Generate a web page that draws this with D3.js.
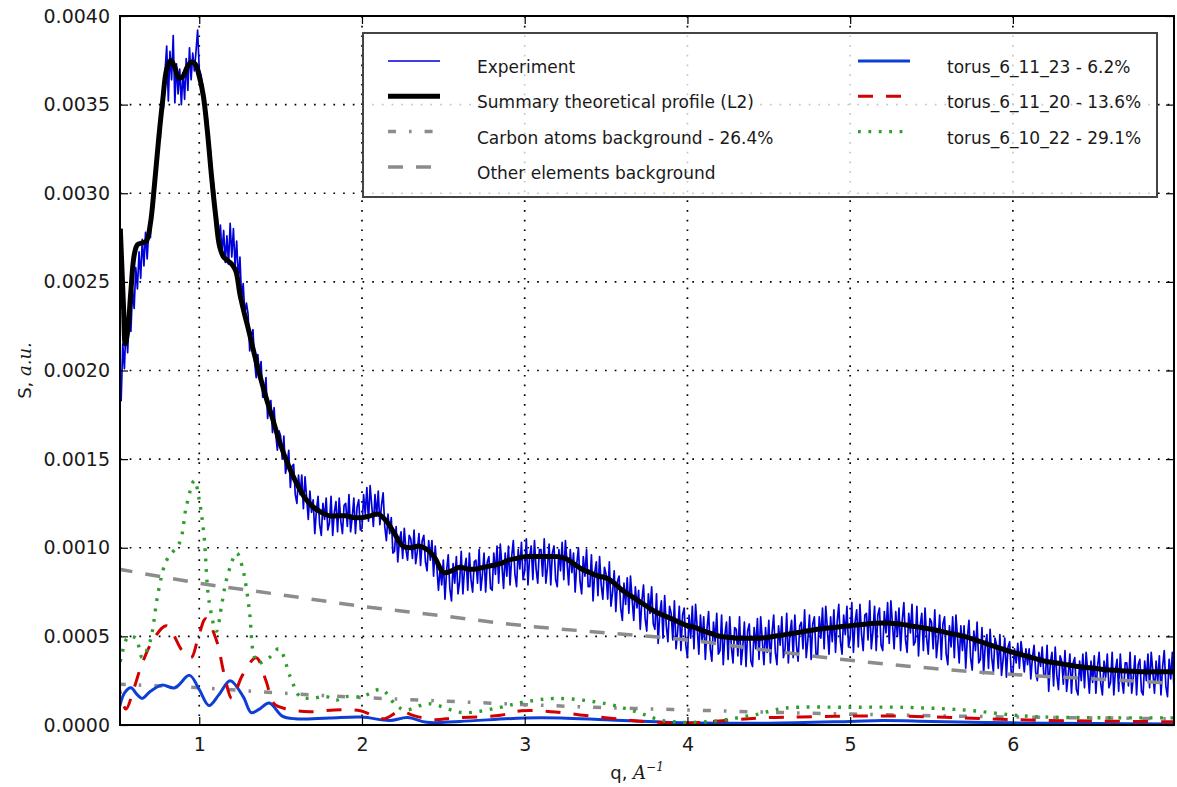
<!DOCTYPE html>
<html>
<head>
<meta charset="utf-8">
<style>
    body { margin: 0; background-color: #fff; }
    svg { display: block; background-color: #fff; }
    text { font-family: "DejaVu Sans", sans-serif; fill: #1a1a1a; }
    .math { font-family: "DejaVu Serif", serif; font-style: italic; }
</style>
<script src="https://cdn.jsdelivr.net/npm/d3@7"></script>
</head>
<body>
<svg id="chart" width="1177" height="787"></svg>
<script>
// all S values below are in units of 1e-4 (a.u.)

// experiment, sampled every 0.01 from q = 0.50 to 7.00
var expStart = 0.50, expStep = 0.01;
var experiment = [
    17.2, 19.4, 18.3, 21.5, 20.1, 22.6, 21.0, 23.4, 22.2, 24.6,
    23.5, 25.8, 24.6, 26.7, 25.2, 27.4, 25.9, 27.8, 26.3, 27.9,
    27.5, 29.6, 29.2, 31.0, 31.4, 33.5, 33.0, 35.2, 34.8, 36.9,
    38.3, 35.2, 38.0, 36.4, 38.9, 35.1, 37.3, 35.6, 37.0, 35.0,
    36.8, 35.3, 37.6, 35.8, 38.2, 36.4, 37.9, 36.9, 38.0, 39.2,
    37.0, 36.7, 36.1, 35.4, 34.8, 34.2, 33.0, 32.3, 30.8, 30.5,
    29.1, 28.7, 27.3, 28.2, 26.6, 27.9, 26.1, 27.6, 26.0, 28.3,
    26.4, 28.0, 25.9, 27.3, 25.1, 26.4, 24.1, 24.9, 23.2, 23.8,
    23.2, 21.1, 22.0, 22.3, 20.5, 19.6, 20.9, 19.7, 20.5, 18.5,
    18.5, 19.6, 17.3, 18.1, 18.3, 16.5, 17.9, 16.4, 15.5, 16.6,
    16.3, 15.0, 16.3, 14.2, 14.7, 15.5, 13.4, 14.6, 14.7, 13.0,
    12.5, 14.1, 13.0, 14.1, 12.2, 14.0, 12.8, 11.6, 13.2, 12.0,
    12.7, 10.8, 12.1, 12.9, 11.3, 10.7, 12.5, 11.6, 12.8, 11.0,
    11.4, 12.9, 10.7, 12.0, 12.6, 10.9, 12.8, 11.5, 10.8, 12.4,
    12.5, 11.2, 13.0, 10.9, 11.7, 12.8, 10.8, 12.3, 12.7, 11.0,
    11.1, 13.0, 11.9, 13.4, 11.5, 13.5, 12.4, 11.2, 13.0, 11.8,
    13.2, 11.3, 12.4, 13.1, 11.2, 10.4, 11.9, 10.8, 11.7, 9.7,
    9.8, 11.2, 9.2, 10.4, 10.9, 9.4, 11.1, 9.9, 9.3, 10.7,
    10.5, 9.4, 11.0, 9.1, 9.8, 10.8, 9.0, 10.4, 10.7, 9.2,
    8.7, 10.4, 9.3, 10.4, 8.4, 10.1, 8.9, 7.6, 8.9, 7.9,
    9.3, 7.1, 8.7, 9.6, 7.7, 7.0, 9.1, 8.0, 9.5, 7.4,
    8.1, 9.8, 7.4, 8.8, 9.4, 7.6, 9.7, 8.2, 7.5, 9.2,
    9.3, 8.0, 9.9, 7.6, 8.5, 9.7, 7.5, 9.2, 9.5, 7.7,
    7.6, 9.7, 8.5, 10.1, 8.0, 10.2, 9.0, 7.7, 9.7, 8.4,
    10.1, 7.9, 9.5, 10.4, 8.5, 7.8, 9.9, 8.8, 10.3, 8.2,
    8.7, 10.5, 7.9, 9.5, 10.1, 8.2, 10.4, 8.8, 8.0, 9.9,
    9.9, 8.4, 10.5, 8.0, 8.9, 10.2, 7.9, 9.7, 10.1, 8.2,
    7.8, 9.9, 8.7, 10.3, 8.2, 10.4, 9.2, 7.9, 9.9, 8.6,
    9.7, 7.5, 9.1, 10.0, 8.1, 7.4, 9.5, 8.4, 9.9, 7.8,
    7.8, 9.6, 7.0, 8.6, 9.2, 7.3, 9.5, 7.9, 7.1, 8.9,
    8.5, 7.1, 9.2, 6.7, 7.5, 8.7, 6.4, 8.1, 8.4, 6.6,
    5.9, 8.0, 6.8, 8.3, 6.3, 8.4, 7.1, 5.9, 7.8, 6.6,
    7.6, 5.4, 7.0, 7.9, 6.0, 5.3, 7.4, 6.3, 7.8, 5.7,
    5.4, 7.4, 4.6, 6.3, 7.0, 4.9, 7.3, 5.6, 4.7, 6.7,
    6.3, 4.8, 7.0, 4.3, 5.3, 6.7, 4.2, 6.2, 6.6, 4.5,
    3.8, 6.2, 4.9, 6.7, 4.3, 6.8, 5.5, 4.0, 6.2, 4.7,
    6.1, 3.7, 5.4, 6.4, 4.3, 3.6, 5.8, 4.7, 6.3, 4.0,
    4.2, 6.2, 3.4, 5.1, 5.8, 3.7, 6.1, 4.4, 3.5, 5.5,
    5.4, 3.9, 6.1, 3.4, 4.4, 5.8, 3.3, 5.3, 5.7, 3.6,
    3.3, 5.5, 4.3, 6.0, 3.7, 6.1, 4.8, 3.4, 5.5, 4.1,
    5.9, 3.5, 5.2, 6.2, 4.1, 3.4, 5.6, 4.5, 6.1, 3.8,
    4.3, 6.3, 3.5, 5.2, 5.9, 3.8, 6.2, 4.5, 3.6, 5.6,
    5.8, 4.3, 6.5, 3.8, 4.8, 6.2, 3.7, 5.7, 6.1, 4.0,
    3.9, 6.1, 4.9, 6.6, 4.3, 6.7, 5.4, 4.0, 6.1, 4.7,
    6.5, 4.1, 5.8, 6.8, 4.7, 4.0, 6.2, 5.1, 6.7, 4.4,
    4.9, 6.9, 4.1, 5.8, 6.5, 4.4, 6.8, 5.1, 4.2, 6.2,
    6.3, 4.8, 7.0, 4.3, 5.3, 6.7, 4.2, 6.2, 6.6, 4.5,
    4.2, 6.4, 5.2, 6.9, 4.6, 7.0, 5.7, 4.3, 6.4, 5.0,
    6.6, 4.2, 5.9, 6.9, 4.8, 4.1, 6.3, 5.2, 6.8, 4.5,
    4.7, 6.7, 3.9, 5.6, 6.3, 4.2, 6.6, 4.9, 4.0, 6.0,
    5.8, 4.3, 6.5, 3.8, 4.8, 6.2, 3.7, 5.7, 6.1, 4.0,
    3.4, 5.6, 4.4, 6.1, 3.8, 6.2, 4.9, 3.5, 5.6, 4.2,
    5.6, 3.2, 4.9, 5.9, 3.8, 3.1, 5.3, 4.2, 5.8, 3.5,
    3.7, 5.5, 2.9, 4.5, 5.1, 3.2, 5.4, 3.8, 3.0, 4.9,
    4.5, 3.2, 5.1, 2.8, 3.7, 4.9, 2.7, 4.4, 4.7, 2.9,
    2.9, 4.3, 3.5, 4.6, 3.2, 4.7, 3.9, 3.0, 4.3, 3.4,
    4.3, 2.6, 3.8, 4.5, 3.0, 2.5, 4.1, 3.3, 4.4, 2.8,
    2.7, 4.5, 1.9, 3.5, 4.1, 2.2, 4.4, 2.8, 2.0, 3.9,
    3.6, 2.3, 4.2, 1.9, 2.8, 4.0, 1.8, 3.5, 3.8, 2.0,
    1.7, 3.6, 2.5, 4.0, 2.1, 4.1, 3.0, 1.8, 3.6, 2.4,
    3.9, 1.8, 3.3, 4.1, 2.3, 1.7, 3.6, 2.7, 4.0, 2.1,
    2.4, 4.1, 1.7, 3.1, 3.7, 1.9, 4.0, 2.5, 1.8, 3.5,
    3.5, 2.2, 4.1, 1.8, 2.7, 3.9, 1.7, 3.4, 3.7, 1.9,
    1.7, 3.6, 2.5, 4.0, 2.1, 4.1, 3.0, 1.8, 3.6, 2.4,
    3.9, 1.7, 3.3, 4.2, 2.2, 1.6, 3.7, 2.6, 4.1, 2.0,
    2.8
];

// summary theoretical profile (L2)
var theoryQ = [0.515, 0.535, 0.545, 0.56, 0.58, 0.60, 0.62, 0.65, 0.675, 0.70,
    0.725, 0.75, 0.775, 0.80, 0.825, 0.85, 0.875, 0.90, 0.925, 0.95,
    0.975, 1.00, 1.025, 1.05, 1.075, 1.10, 1.125, 1.15, 1.175, 1.20,
    1.225, 1.25, 1.275, 1.30, 1.35, 1.40, 1.45, 1.50, 1.55, 1.60,
    1.65, 1.70, 1.75, 1.80, 1.85, 1.90, 1.95, 2.00, 2.05, 2.10,
    2.15, 2.20, 2.25, 2.30, 2.35, 2.40, 2.45, 2.50, 2.55, 2.60,
    2.65, 2.70, 2.75, 2.80, 2.85, 2.90, 2.95, 3.00, 3.05, 3.10,
    3.15, 3.20, 3.25, 3.30, 3.35, 3.40, 3.45, 3.50, 3.55, 3.60,
    3.65, 3.70, 3.75, 3.80, 3.85, 3.90, 3.95, 4.00, 4.05, 4.10,
    4.15, 4.20, 4.25, 4.30, 4.35, 4.40, 4.45, 4.50, 4.60, 4.70,
    4.80, 4.90, 5.00, 5.10, 5.20, 5.30, 5.40, 5.50, 5.60, 5.70,
    5.80, 5.90, 6.00, 6.10, 6.20, 6.30, 6.40, 6.50, 6.60, 6.70,
    6.80, 6.90, 7.00];
var theory = [28.0, 23.5, 21.5, 22.2, 24.5, 26.5, 27.1, 27.2, 27.3, 28.3,
    30.5, 33.0, 35.2, 37.0, 37.5, 37.1, 36.5, 36.6, 37.1, 37.4,
    37.3, 36.6, 35.5, 33.5, 31.0, 28.8, 27.0, 26.4, 26.2, 26.0,
    25.6, 24.3, 23.3, 22.4, 20.5, 18.8, 17.3, 15.8, 14.6, 13.6,
    12.8, 12.3, 12.0, 11.8, 11.8, 11.8, 11.7, 11.7, 11.8, 11.9,
    11.5, 10.8, 10.1, 10.0, 10.1, 9.9, 9.4, 8.6, 8.7, 8.9,
    8.8, 8.8, 8.9, 9.0, 9.1, 9.3, 9.4, 9.5, 9.5, 9.5,
    9.5, 9.5, 9.4, 9.1, 8.8, 8.6, 8.4, 8.3, 8.0, 7.6,
    7.3, 7.0, 6.7, 6.4, 6.2, 6.0, 5.8, 5.6, 5.5, 5.3,
    5.15, 5.0, 4.95, 4.9, 4.9, 4.9, 4.9, 4.95, 5.1, 5.25,
    5.4, 5.5, 5.6, 5.7, 5.75, 5.7, 5.55, 5.4, 5.2, 5.0,
    4.7, 4.4, 4.1, 3.85, 3.6, 3.45, 3.3, 3.2, 3.1, 3.05,
    3.0, 3.0, 3.0];

// carbon atoms background - 26.4%
var carbonQ = [0.5, 1.0, 1.5, 2.0, 2.5, 3.0, 3.5, 4.0, 4.5, 5.0, 5.5, 6.0, 6.5, 7.0];
var carbon  = [2.3, 2.1, 1.8, 1.55, 1.35, 1.15, 0.98, 0.85, 0.72, 0.62, 0.52, 0.45, 0.4, 0.35];

// other elements background
var otherQ = [0.5, 1.0, 1.5, 2.0, 2.5, 3.0, 3.5, 4.0, 4.5, 5.0, 5.5, 6.0, 6.5, 7.0];
var other  = [8.8, 8.0, 7.35, 6.7, 6.15, 5.6, 5.2, 4.8, 4.2, 3.65, 3.2, 2.85, 2.6, 2.35];

// torus_6_11_23 - 6.2%
var torus1Q = [0.51, 0.54, 0.58, 0.62, 0.65, 0.70, 0.77, 0.85, 0.94, 1.00,
    1.06, 1.12, 1.19, 1.27, 1.32, 1.37, 1.43, 1.51, 1.59, 1.80,
    2.00, 2.17, 2.28, 2.40, 2.60, 3.00, 3.22, 3.50, 4.00, 4.50,
    5.00, 5.20, 5.50, 6.00, 6.50, 7.00];
var torus1 = [1.0, 1.8, 2.1, 1.7, 1.5, 1.9, 2.25, 2.1, 2.8, 2.0,
    1.1, 1.7, 2.5, 1.6, 0.7, 0.9, 1.24, 0.5, 0.35, 0.4,
    0.45, 0.25, 0.42, 0.15, 0.2, 0.4, 0.4, 0.3, 0.12, 0.1,
    0.2, 0.25, 0.2, 0.12, 0.08, 0.06];

// torus_6_11_20 - 13.6%
var torus2Q = [0.50, 0.52, 0.55, 0.60, 0.65, 0.73, 0.80, 0.895, 0.95, 0.99,
    1.04, 1.105, 1.155, 1.20, 1.265, 1.35, 1.41, 1.46, 1.54, 1.68,
    1.83, 1.99, 2.13, 2.23, 2.33, 2.44, 2.57, 2.85, 2.98, 3.16,
    3.36, 3.57, 3.78, 3.98, 4.29, 4.50, 4.70, 5.00, 5.32, 5.69,
    6.00, 6.50, 7.00];
var torus2 = [2.6, 1.6, 0.9, 2.1, 3.5, 5.0, 5.6, 4.2, 3.8, 4.8,
    6.0, 4.8, 2.8, 1.5, 2.8, 3.8, 2.5, 1.2, 0.9, 0.75,
    0.85, 0.8, 0.35, 0.75, 0.5, 0.3, 0.4, 0.55, 0.8, 0.75,
    0.55, 0.34, 0.17, 0.1, 0.3, 0.42, 0.45, 0.5, 0.5, 0.4,
    0.3, 0.22, 0.18];

// torus_6_10_22 - 29.1%
var torus3Q = [0.50, 0.52, 0.55, 0.57, 0.61, 0.65, 0.69, 0.71, 0.75, 0.80,
    0.88, 0.92, 0.97, 1.00, 1.03, 1.06, 1.105, 1.14, 1.17, 1.23,
    1.265, 1.31, 1.33, 1.36, 1.43, 1.49, 1.56, 1.62, 1.68, 1.78,
    1.84, 1.90, 2.00, 2.12, 2.21, 2.27, 2.41, 2.62, 2.85, 3.00,
    3.20, 3.50, 3.70, 3.85, 4.10, 4.40, 4.60, 5.00, 5.30, 5.70,
    6.00, 6.20, 7.00];
var torus3 = [3.0, 3.8, 4.8, 5.0, 4.9, 3.8, 4.5, 5.2, 7.6, 9.3,
    10.3, 12.3, 13.8, 12.7, 10.6, 7.0, 5.3, 6.9, 8.3, 9.7,
    8.9, 6.3, 4.2, 3.5, 3.8, 4.3, 2.7, 1.6, 1.5, 1.6,
    1.4, 1.6, 1.6, 2.0, 1.1, 0.85, 1.2, 0.7, 1.0, 1.3,
    1.5, 1.2, 0.7, 0.25, 0.17, 0.55, 0.95, 1.0, 1.0, 0.85,
    0.56, 0.45, 0.4];

var xTicks = [1, 2, 3, 4, 5, 6];
var yTicks = [0, 5, 10, 15, 20, 25, 30, 35, 40];
var yTickLabels = ["0.0000", "0.0005", "0.0010", "0.0015", "0.0020", "0.0025", "0.0030", "0.0035", "0.0040"];

var legendLeft  = ["Experiment", "Summary theoretical profile (L2)", "Carbon atoms background - 26.4%", "Other elements background"];
var legendRight = ["torus_6_11_23 - 6.2%", "torus_6_11_20 - 13.6%", "torus_6_10_22 - 29.1%"];

// ------------------------------------------------------------------
var margin = {left: 120, top: 16, right: 3, bottom: 62};
var W = 1177, H = 787;
var pw = W - margin.left - margin.right, ph = H - margin.top - margin.bottom;

var svg = d3.select("#chart");
var g = svg.append("g").attr("transform", "translate(" + margin.left + "," + margin.top + ")");

var x = d3.scaleLinear().domain([0.513, 6.99]).range([0, pw]);
var y = d3.scaleLinear().domain([0, 40]).range([ph, 0]);

svg.append("defs").append("clipPath").attr("id", "clip")
    .append("rect").attr("width", pw).attr("height", ph);

// grid
var grid = g.append("g").attr("class", "grid");
grid.selectAll(".gx").data(xTicks).enter().append("line")
    .attr("x1", function (d) { return x(d); }).attr("x2", function (d) { return x(d); })
    .attr("y1", 0).attr("y2", ph);
grid.selectAll(".gy").data(yTicks.slice(1, -1)).enter().append("line")
    .attr("y1", function (d) { return y(d); }).attr("y2", function (d) { return y(d); })
    .attr("x1", 0).attr("x2", pw);
grid.selectAll("line").attr("stroke", "#000").attr("stroke-width", 1.7)
    .attr("stroke-dasharray", "1.7,8").attr("stroke-linecap", "butt");

// series
var styles = {
    experiment: {stroke: "#0000d8", width: 1.7, dash: null},
    theory:     {stroke: "#000",    width: 5,   dash: null},
    carbon:     {stroke: "#8c8c8c", width: 3.5, dash: "8,13,2.6,13"},
    other:      {stroke: "#8c8c8c", width: 3.5, dash: "15,13"},
    torus1:     {stroke: "#0d3fd6", width: 3,   dash: null},
    torus2:     {stroke: "#d40000", width: 3,   dash: "15,13"},
    torus3:     {stroke: "#2f9e2f", width: 3.4, dash: "2.8,7.6"}
};

function pairs(qs, vs) { return vs.map(function (v, i) { return [qs[i], v]; }); }

var expData = experiment.map(function (v, i) { return [expStart + i * expStep, v]; });

var series = [
    {key: "experiment", data: expData, curve: d3.curveLinear},
    {key: "theory", data: pairs(theoryQ, theory), curve: d3.curveCatmullRom},
    {key: "carbon", data: pairs(carbonQ, carbon), curve: d3.curveCatmullRom},
    {key: "other", data: pairs(otherQ, other), curve: d3.curveCatmullRom},
    {key: "torus1", data: pairs(torus1Q, torus1), curve: d3.curveCatmullRom},
    {key: "torus2", data: pairs(torus2Q, torus2), curve: d3.curveCatmullRom},
    {key: "torus3", data: pairs(torus3Q, torus3), curve: d3.curveCatmullRom}
];

var plot = g.append("g").attr("clip-path", "url(#clip)");
series.forEach(function (s) {
    var st = styles[s.key];
    var line = d3.line().x(function (d) { return x(d[0]); }).y(function (d) { return y(d[1]); }).curve(s.curve);
    plot.append("path").datum(s.data)
        .attr("d", line)
        .attr("fill", "none")
        .attr("stroke", st.stroke)
        .attr("stroke-width", st.width)
        .attr("stroke-dasharray", st.dash)
        .attr("stroke-linejoin", "round");
});

// axes, ticks pointing inward on all four sides
var xAxis = g.append("g").attr("transform", "translate(0," + ph + ")")
    .call(d3.axisBottom(x).tickValues(xTicks).tickSizeInner(-8).tickSizeOuter(0).tickPadding(13).tickFormat(d3.format("d")));
var xTop = g.append("g")
    .call(d3.axisTop(x).tickValues(xTicks).tickSizeInner(-8).tickSizeOuter(0).tickFormat(""));
var yAxis = g.append("g")
    .call(d3.axisLeft(y).tickValues(yTicks).tickSizeInner(-8).tickSizeOuter(0).tickPadding(10)
        .tickFormat(function (d, i) { return yTickLabels[i]; }));
var yRight = g.append("g").attr("transform", "translate(" + pw + ",0)")
    .call(d3.axisRight(y).tickValues(yTicks).tickSizeInner(-8).tickSizeOuter(0).tickFormat(""));

[xAxis, xTop, yAxis, yRight].forEach(function (a) {
    a.select(".domain").remove();
    a.selectAll(".tick line").attr("stroke", "#000").attr("stroke-width", 1.2);
    a.selectAll("text").style("font-family", "DejaVu Sans").style("font-size", "19px").attr("fill", "#1a1a1a");
});

// frame
g.append("rect").attr("width", pw).attr("height", ph)
    .attr("fill", "none").attr("stroke", "#000").attr("stroke-width", 2);

// axis labels
var xl = svg.append("text").attr("x", margin.left + pw / 2 - 10).attr("y", 779)
    .attr("text-anchor", "middle").style("font-size", "18px");
xl.append("tspan").text("q, ");
xl.append("tspan").attr("class", "math").text("A");
xl.append("tspan").attr("class", "math").attr("dy", -8).style("font-size", "12px").text("\u22121");

var yl = svg.append("text").attr("transform", "translate(31," + (margin.top + ph / 2) + ") rotate(-90)")
    .attr("text-anchor", "middle").style("font-size", "18px");
yl.append("tspan").text("S, ");
yl.append("tspan").attr("class", "math").text("a.u.");

// legend
var lg = svg.append("g").attr("transform", "translate(363,33)");
lg.append("rect").attr("width", 794).attr("height", 164)
    .attr("fill", "#fff").attr("fill-opacity", 0.78)
    .attr("stroke", "#444").attr("stroke-width", 2);

var leftKeys = ["experiment", "theory", "carbon", "other"];
var rightKeys = ["torus1", "torus2", "torus3"];

function legendColumn(labels, keys, hx, tx) {
    labels.forEach(function (label, i) {
        var st = styles[keys[i]];
        var yy = 28 + i * 35.3;
        lg.append("line").attr("x1", hx).attr("x2", hx + 52).attr("y1", yy).attr("y2", yy)
            .attr("stroke", st.stroke).attr("stroke-width", st.width)
            .attr("stroke-dasharray", st.dash);
        lg.append("text").attr("x", tx).attr("y", yy + 12).style("font-size", "17px").text(label);
    });
}
legendColumn(legendLeft, leftKeys, 25, 114);
legendColumn(legendRight, rightKeys, 495, 584);
</script>
</body>
</html>
